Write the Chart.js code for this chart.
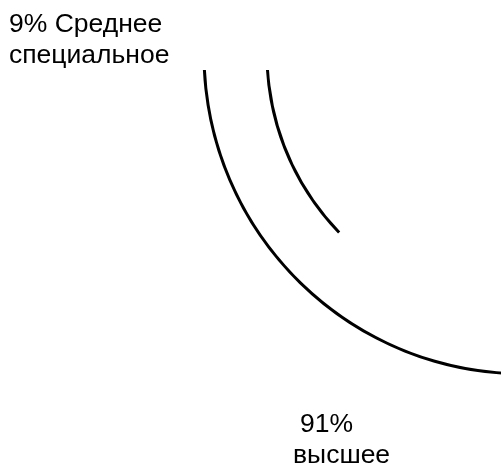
<!DOCTYPE html>
<html>
<head>
<meta charset="utf-8">
<script src="https://cdn.jsdelivr.net/npm/chart.js@4/dist/chart.umd.min.js"></script>
<style>
  html, body { margin: 0; padding: 0; background: #fff; overflow: hidden; width: 501px; height: 467px; }
  #eduChart { position: absolute; left: 0; top: -268px; }
</style>
</head>
<body>
<canvas id="eduChart" width="846" height="735"></canvas>
<script>
const categories = ['Среднее специальное', 'высшее'];
const shares = [9, 91];

// the rings are much bigger than the window, so the canvas is
// shifted up and most of it lies outside what is shown
const shiftY = 268;
const cx = 524, cy = 54 + shiftY;
const rOuter = 321.5, rInner = 255.5;
const areaTop = cy - rOuter;
const areaBottom = cy + rOuter;
const topCut = 70 + shiftY;     // arcs are cut here
const innerCut = 290 + shiftY;  // inner ring is cut here

const labelPlugin = {
    id: 'sliceLabels',
    afterDraw(chart) {
        const ctx = chart.ctx;
        const words = categories[0].split(' ');
        ctx.save();
        ctx.font = '26.5px "Liberation Sans", Arial, sans-serif';
        ctx.fillStyle = '#000';
        ctx.textAlign = 'left';
        ctx.textBaseline = 'alphabetic';
        ctx.fillText(shares[0] + '% ' + words[0], 9, 32 + shiftY);
        ctx.fillText(words.slice(1).join(' '), 9, 63 + shiftY);
        ctx.fillText(shares[1] + '%', 300, 432 + shiftY);
        ctx.fillText(categories[1], 293, 463 + shiftY);
        ctx.restore();
    }
};

const canvas = document.getElementById('eduChart');
const ctx = canvas.getContext('2d');

new Chart(ctx, {
    type: 'doughnut',
    data: {
        labels: categories,
        datasets: [{
            data: shares,
            backgroundColor: ['#000', '#000'],
            borderWidth: 0,
            weight: 3,
            rotation: 0,
            clip: { top: areaTop - topCut, left: false, right: false, bottom: false }
        }, {
            data: shares,
            backgroundColor: ['rgba(0,0,0,0)', 'rgba(0,0,0,0)'],
            borderWidth: 0,
            weight: 60
        }, {
            data: shares,
            backgroundColor: ['rgba(0,0,0,0)', '#000'],
            borderWidth: 0,
            weight: 3,
            rotation: 193.6,
            clip: { top: areaTop - topCut, left: false, right: false, bottom: innerCut - areaBottom }
        }]
    },
    options: {
        responsive: false,
        animation: false,
        cutout: rInner,
        layout: {
            padding: {
                left: cx - rOuter,
                right: canvas.width - (cx + rOuter),
                top: areaTop,
                bottom: canvas.height - areaBottom
            }
        },
        plugins: {
            legend: { display: false },
            tooltip: { enabled: false }
        }
    },
    plugins: [labelPlugin]
});
</script>
</body>
</html>
